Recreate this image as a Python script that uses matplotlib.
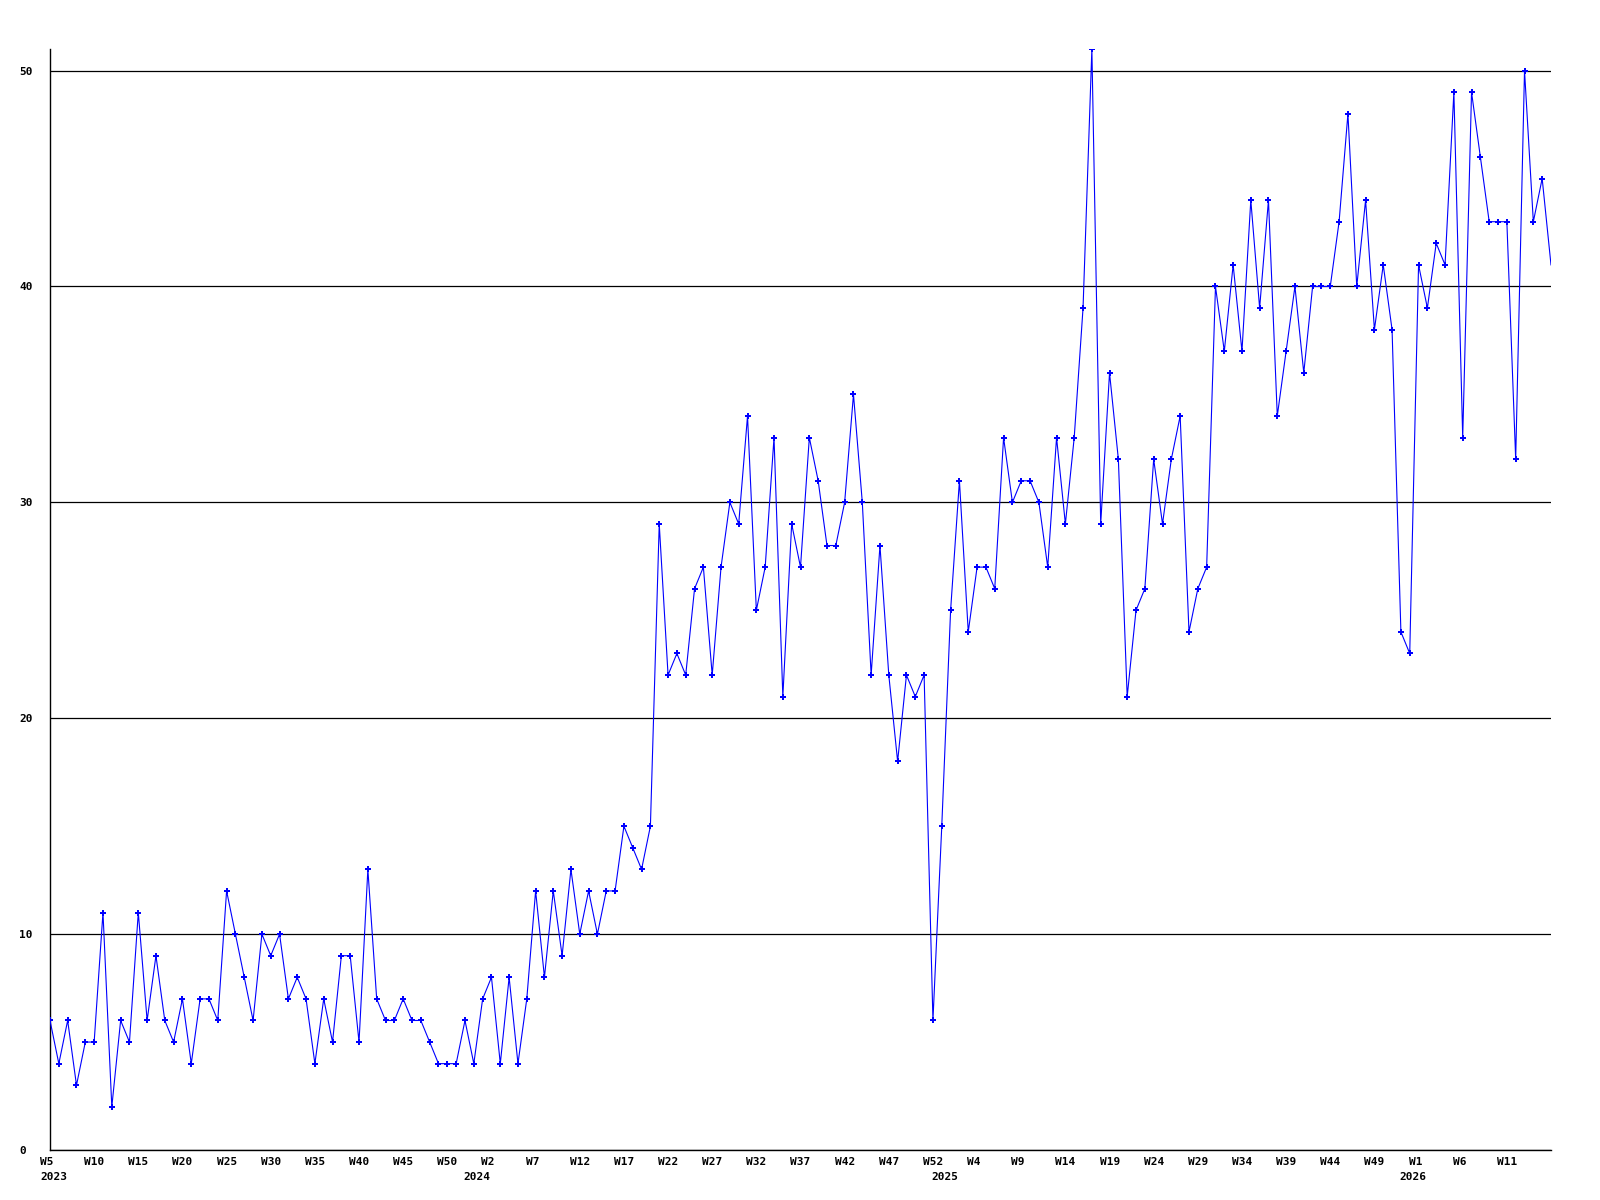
import matplotlib
matplotlib.use("Agg")
import matplotlib.pyplot as plt
import matplotlib.transforms as mtransforms

# weekly counts, 2023 W5 .. 2026 W16 (one extra "W0" point at each new year)
years = [2023, 2024, 2025, 2026]
first_week = [5, 0, 0, 0]
last_week = [52, 52, 52, 16]

counts = [
    6, 4, 6, 3, 5, 5, 11, 2, 6, 5, 11, 6, 9, 6, 5, 7, 4, 7, 7, 6, 12, 10, 8, 6, 10, 9, 10, 7, 8,
    7, 4, 7, 5, 9, 9, 5, 13, 7, 6, 6, 7, 6, 6, 5, 4, 4, 4, 6, 4, 7, 8, 4, 8, 4, 7, 12, 8, 12, 9, 13,
    10, 12, 10, 12, 12, 15, 14, 13, 15, 29, 22, 23, 22, 26, 27, 22, 27, 30, 29, 34, 25, 27, 33, 21, 29, 27, 33, 31, 28,
    28, 30, 35, 30, 22, 28, 22, 18, 22, 21, 22, 6, 15, 25, 31, 24, 27, 27, 26, 33, 30, 31, 31, 30, 27, 33, 29, 33,
    39, 51, 29, 36, 32, 21, 25, 26, 32, 29, 32, 34, 24, 26, 27, 40, 37, 41, 37, 44, 39, 44, 34, 37, 40, 36, 40, 40, 40, 43,
    48, 40, 44, 38, 41, 38, 24, 23, 41, 39, 42, 41, 49, 33, 49, 46, 43, 43, 43, 32, 50, 43, 45, 41,
]

y_ticks = [0, 10, 20, 30, 40, 50]

# build week labels and year start positions
week_labels = []
year_starts = []
for yr, w0, w1 in zip(years, first_week, last_week):
    year_starts.append(len(week_labels))
    for w in range(w0, w1 + 1):
        week_labels.append(f"W{w}")

x = list(range(len(counts)))

font = {"family": "DejaVu Sans Mono", "weight": "bold", "size": 8}

fig = plt.figure(figsize=(16, 12), dpi=100)
ax = fig.add_axes([50 / 1600, 50 / 1200, 1501 / 1600, 1101 / 1200])

# last point sits on the right edge and shows no marker in the original
ax.plot(x, counts, color="#0000ff", linewidth=0.8, marker="P", markersize=4.2,
        markeredgewidth=0, markevery=list(range(len(counts) - 1)), zorder=3)

ax.set_xlim(0, len(counts) - 1)
ax.set_ylim(0, 51)

ax.yaxis.grid(True, color="black", linewidth=0.9)
ax.set_axisbelow(True)
for side in ("top", "right"):
    ax.spines[side].set_visible(False)
for side in ("left", "bottom"):
    ax.spines[side].set_linewidth(1.0)
    ax.spines[side].set_color("black")

# y labels: left aligned near the figure edge
ax.set_yticks(y_ticks)
ax.set_yticklabels([str(v) for v in y_ticks], fontdict=font)
ax.tick_params(axis="y", length=0, pad=22)
for lab in ax.get_yticklabels():
    lab.set_horizontalalignment("left")

# x labels every 5th point, left aligned slightly before the point
tick_pos = list(range(0, len(counts) - 1, 5))
ax.set_xticks(tick_pos)
ax.set_xticklabels([week_labels[i] for i in tick_pos], fontdict=font)
ax.tick_params(axis="x", length=0, pad=5)
shift = mtransforms.ScaledTranslation(-10 / 100, 0, fig.dpi_scale_trans)
for lab in ax.get_xticklabels():
    lab.set_horizontalalignment("left")
    lab.set_transform(lab.get_transform() + shift)

# year labels on a second row
trans = mtransforms.blended_transform_factory(ax.transData, ax.transAxes)
year_shift = mtransforms.ScaledTranslation(-10 / 100, -22 / 100, fig.dpi_scale_trans)
for yr, idx in zip(years, year_starts):
    ax.text(idx, 0, str(yr), transform=trans + year_shift, ha="left", va="top",
            fontdict=font)

fig.savefig("out.png", dpi=100, facecolor="white")
